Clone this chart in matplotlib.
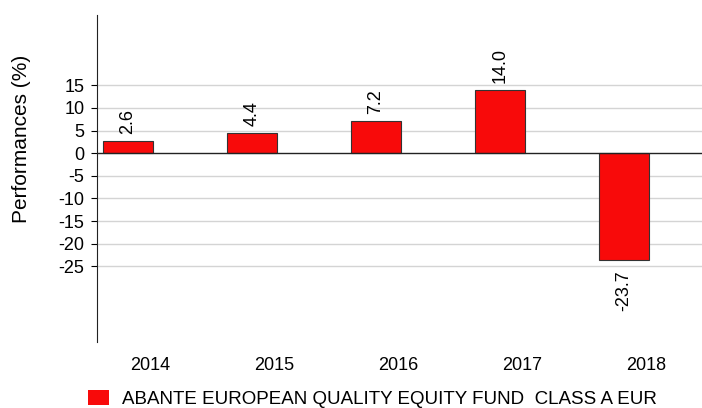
import numpy as np
import matplotlib
matplotlib.use('Agg')
import matplotlib.pyplot as plt
import matplotlib.transforms as mtransforms
from matplotlib.patches import Patch

plt.rcParams['font.family'] = ['Liberation Sans', 'DejaVu Sans']
plt.rcParams['axes.unicode_minus'] = False

# Data
years = ['2014', '2015', '2016', '2017', '2018']
performance = [2.6, 4.4, 7.2, 14.0, -23.7]
fund_name = 'ABANTE EUROPEAN QUALITY EQUITY FUND  CLASS A EUR'
y_ticks = [-25, -20, -15, -10, -5, 0, 5, 10, 15]

fig = plt.figure(figsize=(7.02, 4.08), dpi=100)
ax = fig.add_axes([0.138, 0.162, 0.862, 0.801])

x = np.arange(len(years))
ax.bar(x, performance, width=0.4, color='#f80a0a', edgecolor='#333333',
       linewidth=0.8, zorder=3)

# value labels, rotated, above / below each bar
for xi, v in zip(x, performance):
    if v >= 0:
        ax.annotate(f'{v:.1f}', (xi, v), xytext=(0, 5), textcoords='offset points',
                    rotation=90, ha='center', va='bottom', fontsize=13)
    else:
        ax.annotate(f'{v:.1f}', (xi, v), xytext=(0, -7), textcoords='offset points',
                    rotation=90, ha='center', va='top', fontsize=13)

ax.set_xlim(-0.25, 4.63)
ax.set_ylim(-41.7, 30.5)
ax.set_yticks(y_ticks)
ax.tick_params(axis='y', labelsize=13, length=4, width=0.8, pad=5)
ax.set_xticks(x)
ax.set_xticklabels(years)
ax.tick_params(axis='x', labelsize=13, length=0, pad=11)
# year labels sit a bit to the right of the bars in the original
shift = mtransforms.ScaledTranslation(0.22, 0, fig.dpi_scale_trans)
for lab in ax.get_xticklabels():
    lab.set_transform(lab.get_transform() + shift)

for yt in y_ticks:
    if yt != 0:
        ax.axhline(yt, color='#d4d4d4', linewidth=1, zorder=1)
ax.axhline(0, color='#222222', linewidth=1, zorder=4)

for side in ['top', 'right', 'bottom']:
    ax.spines[side].set_visible(False)
ax.spines['left'].set_linewidth(0.8)
ax.spines['left'].set_color('#222222')

fig.text(22 / 702, 0.66, 'Performances (%)', rotation=90, ha='center', va='center',
         fontsize=15)

handle = Patch(facecolor='#f80a0a', edgecolor='none', label=fund_name)
fig.legend(handles=[handle], loc='center left', bbox_to_anchor=(88 / 702, 1 - 399 / 408),
           frameon=False, fontsize=13.5, handlelength=1.1, handleheight=0.8,
           handletextpad=0.7, borderpad=0, borderaxespad=0)

fig.savefig('out.png', dpi=100)
